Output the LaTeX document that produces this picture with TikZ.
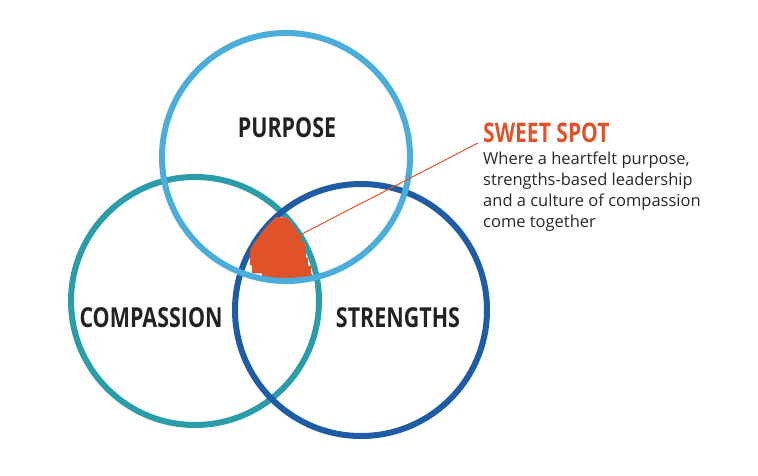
\documentclass[tikz,border=0pt]{standalone}
\usepackage{fontspec}
\setmainfont{Open Sans}
\newfontfamily\condbold[FakeStretch=0.78]{Open Sans Bold}
\usetikzlibrary{positioning,decorations.pathmorphing}
\definecolor{skyblue}{RGB}{75,173,217}
\definecolor{tealring}{RGB}{42,157,168}
\definecolor{deepblue}{RGB}{30,92,164}
\definecolor{spotorange}{RGB}{224,83,42}
\definecolor{inkgray}{RGB}{40,40,40}
\tikzset{
  ring/.style={circle,minimum size=#1,inner sep=0pt,line width=6pt},
  rough/.style={postaction={draw=#1,line width=1.6pt,decorate,
    decoration={random steps,segment length=5pt,amplitude=1.8pt}}},
  ringlabel/.style={font=\condbold\fontsize{27.5}{30}\selectfont,text=inkgray!85!black}
}

\begin{document}
\begin{tikzpicture}[x=1pt,y=-1pt]
\useasboundingbox (0,0) rectangle (758,476);
% the three circles
\node[ring=248pt,draw=tealring,rough=tealring] (compassion) at (195,301) {};
\node[ring=252pt,draw=deepblue,rough=deepblue] (strengths) at (361,310) {};
% sweet spot scribble, clipped to the shared region
\begin{scope}
\clip (285,157) circle (124);
\clip (195,301) circle (124);
\clip (361,310) circle (126);
\foreach \y/\a/\b in {221/262/294,229/256/298,237/252/302,245/250/306,253/250/306,261/250/308,269/252/311,277/262/312}
  \draw[spotorange,line width=8.6pt] (\a,\y) -- (\b,\y+1);
\end{scope}
\node[ring=248pt,draw=skyblue,rough=skyblue] (purpose) at (286,157) {};
% labels
\node[ringlabel] at (287,128) {PURPOSE};
\node[ringlabel] at (151,318) {COMPASSION};
\node[ringlabel] at (398,318) {STRENGTHS};
% sweet spot callout
\coordinate (spot) at (300,235);
\node[font=\condbold\fontsize{27}{30}\selectfont,text=spotorange,anchor=base west,inner sep=0pt] (sweet) at (483,143) {SWEET SPOT};
\node[font=\fontsize{16.5}{21}\selectfont,text=inkgray,align=left,anchor=north west,inner sep=0pt] (desc) at (483,152)
  {Where a heartfelt purpose,\\strengths-based leadership\\and a culture of compassion\\come together};
\draw[spotorange,line width=1pt] (spot) -- (478,143);
\end{tikzpicture}
\end{document}
